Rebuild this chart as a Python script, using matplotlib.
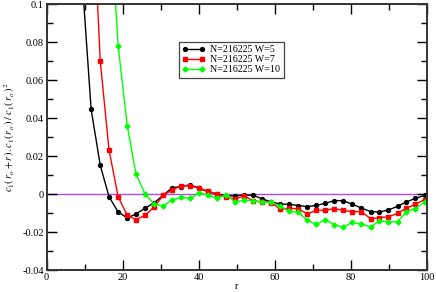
import numpy as np
import matplotlib
matplotlib.use("Agg")
import matplotlib.pyplot as plt
from matplotlib.ticker import MultipleLocator

plt.rcParams['font.family'] = ['Liberation Serif', 'DejaVu Serif']
plt.rcParams['mathtext.fontset'] = 'stix'

r = [9.3, 11.7, 14.1, 16.4, 18.8, 21.2, 23.5, 25.9, 28.3, 30.7,
     33.0, 35.4, 37.8, 40.1, 42.5, 44.9, 47.2, 49.6, 52.0, 54.4,
     56.7, 59.1, 61.5, 63.8, 66.2, 68.6, 70.9, 73.3, 75.7, 78.0,
     80.4, 82.8, 85.2, 87.5, 89.9, 92.3, 94.6, 97.0, 99.4]

w5 = [0.114, 0.0447, 0.0152, -0.0013, -0.0094, -0.0125, -0.0104, -0.0074, -0.0045, -0.0005,
      0.0034, 0.0040, 0.0050, 0.0030, 0.0013, 0.0000, -0.0008, -0.0009, -0.0004, -0.0006,
      -0.0025, -0.0041, -0.0052, -0.0053, -0.0060, -0.0066, -0.0059, -0.0048, -0.0034, -0.0034,
      -0.0053, -0.0073, -0.0092, -0.0094, -0.0083, -0.0064, -0.0041, -0.0022, -0.0006]

w7 = [0.172, 0.0701, 0.0233, -0.0013, -0.0112, -0.0134, -0.0111, -0.0067, -0.0005,
      0.0022, 0.0045, 0.0043, 0.0033, 0.0015, 0.0001, -0.0016, -0.0025, -0.0009, -0.0036,
      -0.0040, -0.0045, -0.0080, -0.0074, -0.0078, -0.0104, -0.0085, -0.0085, -0.0076, -0.0085,
      -0.0092, -0.0092, -0.0129, -0.0124, -0.0119, -0.0101, -0.0074, -0.0053, -0.0029]

w10 = [0.157, 0.0782, 0.0360, 0.0106, 0.0000, -0.0052, -0.0062, -0.0030, -0.0017, -0.0022,
       0.0008, -0.0006, -0.0022, -0.0002, -0.0042, -0.0031, -0.0034, -0.0043, -0.0043, -0.0064,
       -0.0090, -0.0094, -0.0138, -0.0159, -0.0134, -0.0161, -0.0174, -0.0148, -0.0159, -0.0172,
       -0.0140, -0.0145, -0.0145, -0.0092, -0.0076, -0.0041]

labels = ['N=216225 W=5', 'N=216225 W=7', 'N=216225 W=10']

fig = plt.figure(figsize=(4.36, 2.92), dpi=100)
ax = fig.add_axes([0.107, 0.075, 0.872, 0.91])

ax.axhline(0, color='#b048e8', lw=1.0, zorder=1)
ax.plot(r, w5, color='black', marker='o', ms=2.8, lw=1.0, label=labels[0])
ax.plot(r[1:], w7, color='red', marker='s', ms=2.6, lw=1.0, label=labels[1])
ax.plot(r[3:], w10, color='#00ff00', marker='P', ms=3.2, lw=1.0, label=labels[2])

ax.set_xlim(0, 100)
ax.set_ylim(-0.04, 0.1)
ax.xaxis.set_minor_locator(MultipleLocator(10))
ax.yaxis.set_minor_locator(MultipleLocator(0.01))
ax.set_xticks([0, 20, 40, 60, 80, 100])
ax.set_xticklabels(['0', '20', '40', '60', '80', '100'])
ax.set_yticks([-0.04, -0.02, 0, 0.02, 0.04, 0.06, 0.08, 0.1])
ax.set_yticklabels(['-0.04', '-0.02', '0', '0.02', '0.04', '0.06', '0.08', '0.1'])
ax.tick_params(which='both', direction='in', top=True, right=True, labelsize=7.5,
               width=1.0, pad=2)
ax.tick_params(which='major', length=7)
ax.tick_params(which='minor', length=4)
for s in ax.spines.values():
    s.set_linewidth(1.4)
    s.set_color('#333333')

ax.set_xlabel('r', fontsize=7.5, labelpad=0)
ax.set_ylabel(r'$c_1(\,r_o + r\,).c_1(\,r_o\,)\;/\;c_1(\,r_o\,)^2$', fontsize=7.5, labelpad=4)

leg = ax.legend(loc='upper left', bbox_to_anchor=(0.347, 0.86), fontsize=7.2, numpoints=2,
                handlelength=2.3, handletextpad=0.5, borderpad=0.35, labelspacing=0.12,
                fancybox=False, framealpha=1, borderaxespad=0)
leg.get_frame().set_edgecolor('#444444')
leg.get_frame().set_linewidth(0.9)

fig.savefig('out.png', dpi=100)
